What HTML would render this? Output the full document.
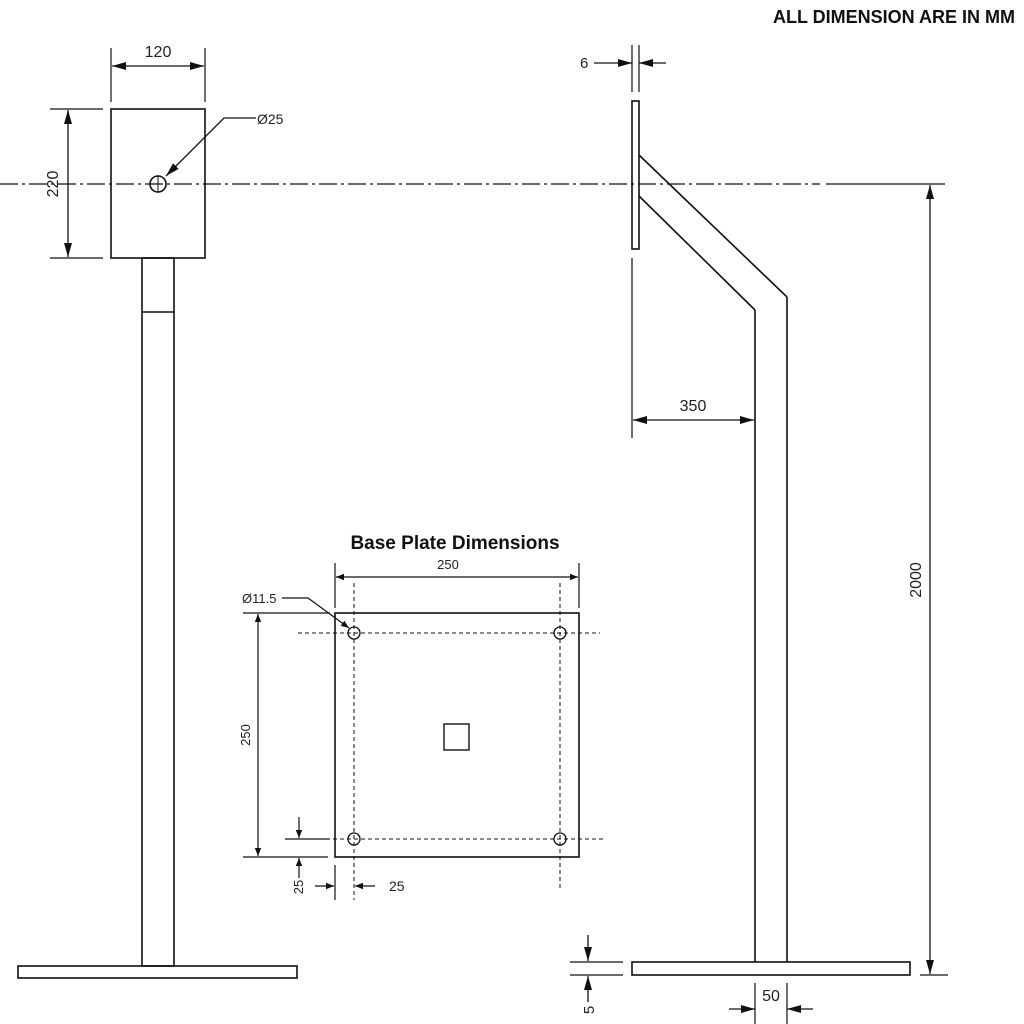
<!DOCTYPE html>
<html><head><style>
html,body{margin:0;padding:0;background:#fff;width:1024px;height:1024px;overflow:hidden}
svg{display:block}
text{font-family:"Liberation Sans",sans-serif;fill:#222}
</style></head><body>
<svg width="1024" height="1024" viewBox="0 0 1024 1024" xmlns="http://www.w3.org/2000/svg">
<defs>
<marker id="a" viewBox="0 0 10 10" refX="10" refY="5" markerWidth="10" markerHeight="8" orient="auto-start-reverse" markerUnits="userSpaceOnUse"><path d="M0,1 L10,5 L0,9 Z" fill="#111"/></marker>
<marker id="b" viewBox="0 0 14 10" refX="14" refY="5" markerWidth="14" markerHeight="10" orient="auto-start-reverse" markerUnits="userSpaceOnUse"><path d="M0,1 L14,5 L0,9 Z" fill="#111"/></marker>
</defs>
<g stroke="#111" stroke-width="1.6" fill="none">
<line x1="0" y1="184" x2="820" y2="184" stroke-dasharray="18,4,3,4" stroke-width="1.2"/>
<line x1="826" y1="184" x2="945" y2="184" stroke-width="1.2"/>
<rect x="111" y="109" width="94" height="149"/>
<circle cx="158" cy="184" r="8"/>
<line x1="158" y1="176" x2="158" y2="192" stroke-width="1"/>
<rect x="142" y="258" width="32" height="708"/>
<line x1="142" y1="312" x2="174" y2="312"/>
<rect x="18" y="966" width="279" height="12"/>
<line x1="111" y1="48" x2="111" y2="102" stroke-width="1.2"/>
<line x1="205" y1="48" x2="205" y2="102" stroke-width="1.2"/>
<line x1="112" y1="66" x2="204" y2="66" marker-start="url(#b)" marker-end="url(#b)" stroke-width="1.3"/>
<line x1="50" y1="109" x2="103" y2="109" stroke-width="1.2"/>
<line x1="50" y1="258" x2="103" y2="258" stroke-width="1.2"/>
<line x1="68" y1="110" x2="68" y2="257" marker-start="url(#b)" marker-end="url(#b)" stroke-width="1.3"/>
<polyline points="256,118 224,118 166,176" marker-end="url(#b)" stroke-width="1.3"/>
<rect x="632" y="101" width="7" height="148"/>
<line x1="639" y1="155" x2="787" y2="297"/>
<line x1="639" y1="196" x2="755" y2="310"/>
<line x1="755" y1="310" x2="755" y2="962"/>
<line x1="787" y1="297" x2="787" y2="962"/>
<rect x="632" y="962" width="278" height="13"/>
<line x1="632" y1="45" x2="632" y2="92" stroke-width="1.2"/>
<line x1="639" y1="45" x2="639" y2="92" stroke-width="1.2"/>
<line x1="594" y1="63" x2="632" y2="63" marker-end="url(#b)" stroke-width="1.3"/>
<line x1="666" y1="63" x2="639" y2="63" marker-end="url(#b)" stroke-width="1.3"/>
<line x1="632" y1="258" x2="632" y2="438" stroke-width="1.2"/>
<line x1="633" y1="420" x2="754" y2="420" marker-start="url(#b)" marker-end="url(#b)" stroke-width="1.3"/>
<line x1="930" y1="185" x2="930" y2="974" marker-start="url(#b)" marker-end="url(#b)" stroke-width="1.3"/>
<line x1="920" y1="975" x2="948" y2="975" stroke-width="1.2"/>
<line x1="570" y1="962" x2="623" y2="962" stroke-width="1.2"/>
<line x1="570" y1="975" x2="623" y2="975" stroke-width="1.2"/>
<line x1="588" y1="935" x2="588" y2="961" marker-end="url(#b)" stroke-width="1.3"/>
<line x1="588" y1="1002" x2="588" y2="976" marker-end="url(#b)" stroke-width="1.3"/>
<line x1="755" y1="983" x2="755" y2="1024" stroke-width="1.2"/>
<line x1="787" y1="983" x2="787" y2="1024" stroke-width="1.2"/>
<line x1="729" y1="1009" x2="755" y2="1009" marker-end="url(#b)" stroke-width="1.3"/>
<line x1="813" y1="1009" x2="787" y2="1009" marker-end="url(#b)" stroke-width="1.3"/>
<rect x="335" y="613" width="244" height="244"/>
<rect x="444" y="724" width="25" height="26" stroke-width="1.4"/>
<g stroke-width="1" stroke-dasharray="4,3">
<line x1="298" y1="633" x2="600" y2="633"/>
<line x1="298" y1="839" x2="605" y2="839"/>
<line x1="354" y1="583" x2="354" y2="900"/>
<line x1="560" y1="583" x2="560" y2="890"/>
</g>
<circle cx="354" cy="633" r="6" stroke-width="1.3"/>
<circle cx="560" cy="633" r="6" stroke-width="1.3"/>
<circle cx="354" cy="839" r="6" stroke-width="1.3"/>
<circle cx="560" cy="839" r="6" stroke-width="1.3"/>
<line x1="335" y1="563" x2="335" y2="608" stroke-width="1.2"/>
<line x1="579" y1="563" x2="579" y2="608" stroke-width="1.2"/>
<line x1="336" y1="577" x2="578" y2="577" marker-start="url(#a)" marker-end="url(#a)" stroke-width="1.2"/>
<line x1="243" y1="613" x2="330" y2="613" stroke-width="1.2"/>
<line x1="243" y1="857" x2="328" y2="857" stroke-width="1.2"/>
<line x1="258" y1="614" x2="258" y2="856" marker-start="url(#a)" marker-end="url(#a)" stroke-width="1.2"/>
<line x1="285" y1="839" x2="330" y2="839" stroke-width="1.2"/>
<line x1="299" y1="817" x2="299" y2="838" marker-end="url(#a)" stroke-width="1.2"/>
<line x1="299" y1="878" x2="299" y2="858" marker-end="url(#a)" stroke-width="1.2"/>
<line x1="335" y1="865" x2="335" y2="900" stroke-width="1.2"/>
<line x1="315" y1="886" x2="334" y2="886" marker-end="url(#a)" stroke-width="1.2"/>
<line x1="375" y1="886" x2="355" y2="886" marker-end="url(#a)" stroke-width="1.2"/>
<polyline points="282,598 308,598 349,628" marker-end="url(#a)" stroke-width="1.2"/>
</g>
<text x="1015" y="23" font-size="18" font-weight="bold" text-anchor="end" style="fill:#111">ALL DIMENSION ARE IN MM</text>
<text x="158" y="57" font-size="16" text-anchor="middle">120</text>
<text transform="translate(58,184) rotate(-90)" font-size="16" text-anchor="middle">220</text>
<text x="257" y="124" font-size="14">Ø25</text>
<text x="580" y="68" font-size="15">6</text>
<text x="693" y="411" font-size="16" text-anchor="middle">350</text>
<text transform="translate(921,580) rotate(-90)" font-size="16" text-anchor="middle">2000</text>
<text transform="translate(594,1010) rotate(-90)" font-size="15" text-anchor="middle">5</text>
<text x="771" y="1001" font-size="16" text-anchor="middle">50</text>
<text x="455" y="549" font-size="19" font-weight="bold" text-anchor="middle" style="fill:#111">Base Plate Dimensions</text>
<text x="448" y="569" font-size="13" text-anchor="middle">250</text>
<text transform="translate(250,735) rotate(-90)" font-size="13" text-anchor="middle">250</text>
<text x="242" y="603" font-size="13">Ø11.5</text>
<text transform="translate(303,887) rotate(-90)" font-size="13" text-anchor="middle">25</text>
<text x="389" y="891" font-size="14">25</text>
</svg>
</body></html>
